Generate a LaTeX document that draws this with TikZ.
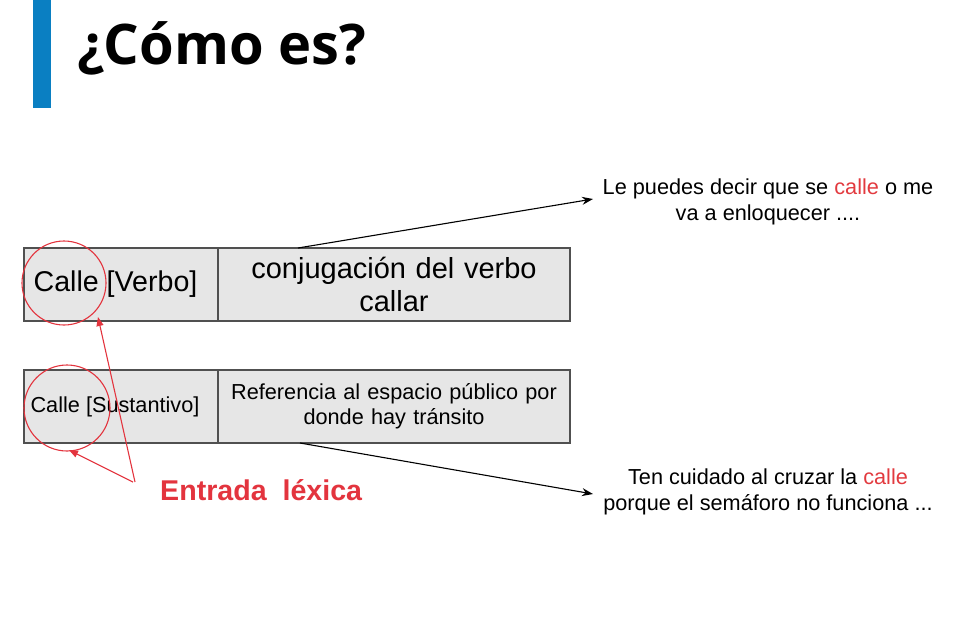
\documentclass[tikz,border=0pt]{standalone}
\usepackage{fontspec}
\setmainfont{Liberation Sans}
\newfontfamily\titlefont{Open Sans}
\usetikzlibrary{arrows.meta}
\definecolor{barblue}{HTML}{0A7FC2}
\definecolor{cellgray}{HTML}{E6E6E6}
\definecolor{cellline}{HTML}{505050}
\definecolor{redmark}{HTML}{E3343E}
\definecolor{redword}{HTML}{E23A3F}
\tikzset{
  cellbox/.style={draw=cellline, fill=cellgray, line width=1.3pt, inner sep=0pt, rectangle, align=center},
  markring/.style={draw=redmark, line width=1.1pt, circle, inner sep=0pt, minimum size=84pt},
  redarrow/.style={draw=redmark, line width=1.1pt, -{Triangle[length=9pt,width=7pt]}},
  blackarrow/.style={draw=black, line width=1.1pt, -{Stealth[length=11pt,width=8pt]}},
  sidetext/.style={align=center, inner sep=0pt, font=\fontsize{21.7}{26}\selectfont},
}
\begin{document}
\begin{tikzpicture}[x=1pt,y=-1pt]
\useasboundingbox (0,0) rectangle (971,630);
% title bar and title
\fill[barblue] (33,0) rectangle (51,108);
\node[anchor=base west, inner sep=0pt, font=\titlefont\bfseries\fontsize{56}{60}\selectfont] (title) at (77,64) {¿Cómo es?};
% first row
\node[cellbox, minimum width=194pt, minimum height=73pt, font=\fontsize{28.6}{32}\selectfont] (v1) at (121,284.5) {\hspace*{-11pt}\raisebox{-2pt}{Calle [Verbo]}};
\node[cellbox, minimum width=352pt, minimum height=73pt, text width=340pt, font=\fontsize{29}{32.5}\selectfont] (v2) at (394,284.5) {conjugación del verbo\\callar};
% second row
\node[cellbox, minimum width=194pt, minimum height=73pt, font=\fontsize{21.7}{25}\selectfont] (s1) at (121,406.5) {\hspace*{-12pt}Calle [Sustantivo]};
\node[cellbox, minimum width=352pt, minimum height=73pt, text width=340pt, font=\fontsize{21.7}{25.5}\selectfont] (s2) at (394,406.5) {Referencia al espacio público por\\donde hay tránsito};
% right texts
\node[sidetext] (t1) at (768,202) {Le puedes decir que se \textcolor{redword}{calle} o me\\va a enloquecer ....};
\node[sidetext] (t2) at (768,492) {Ten cuidado al cruzar la \textcolor{redword}{calle}\\porque el semáforo no funciona ...};
% black arrows
\coordinate (a1s) at (298,248);
\coordinate (a1e) at (593,199);
\coordinate (a2s) at (300,443);
\coordinate (a2e) at (593,494);
\draw[blackarrow] (a1s) -- (a1e);
\draw[blackarrow] (a2s) -- (a2e);
% red rings
\node[markring] (r1) at (64,283) {};
\node[markring, minimum size=86pt] (r2) at (67,408) {};
% entrada lexica
\node[anchor=base west, inner sep=0pt, text=redmark, font=\bfseries\fontsize{28.6}{32}\selectfont] (lex) at (160,500) {Entrada\ \ léxica};
\coordinate (e1) at (135,482);
\coordinate (e2) at (133,482);
\coordinate (r1tip) at (98,317);
\coordinate (r2tip) at (69,450);
\draw[redarrow] (e1) -- (r1tip);
\draw[redarrow] (e2) -- (r2tip);
\end{tikzpicture}
\end{document}
